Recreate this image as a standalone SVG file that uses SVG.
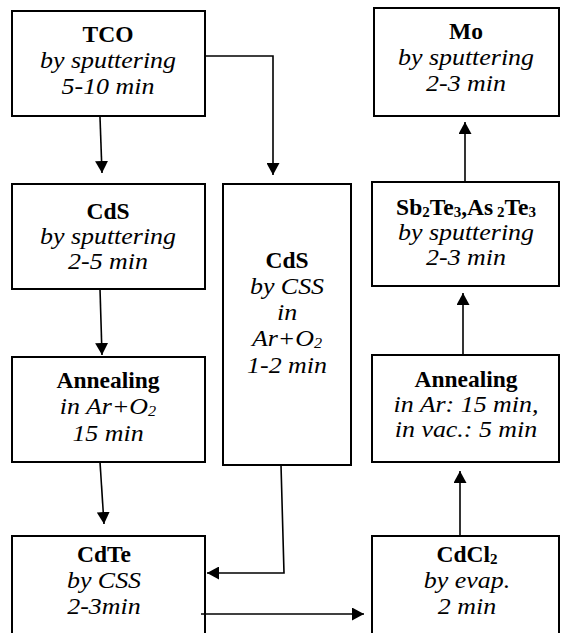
<svg xmlns="http://www.w3.org/2000/svg" width="561" height="633" viewBox="0 0 561 633">
<style>
.box{fill:#fff;stroke:#000;stroke-width:2}
.t{font-family:'Liberation Serif','Times New Roman',serif;font-size:23.5px;text-anchor:middle;fill:#000}
.b{font-weight:bold}
.i{font-style:italic;font-size:24px}
.s{font-size:15px}
.c{fill:none;stroke:#000;stroke-width:1.6}
</style>
<defs>
<marker id="ah" viewBox="0 0 12 13" refX="12" refY="6.5" markerWidth="12" markerHeight="13" markerUnits="userSpaceOnUse" orient="auto">
<path d="M0,0 L12,6.5 L0,13 z" fill="#000"/>
</marker>
</defs>
<rect width="561" height="633" fill="#fff"/>
<g id="tco">
<rect class="box" x="12" y="11" width="193" height="105"/>
<text class="t b" x="108" y="42">TCO</text>
<text class="t i" transform="translate(108,68) scale(1.08,1)">by sputtering</text>
<text class="t i" transform="translate(108,94) scale(1.08,1)">5-10 min</text>
</g>
<g id="mo">
<rect class="box" x="374" y="8" width="185" height="108"/>
<text class="t b" x="466" y="39">Mo</text>
<text class="t i" transform="translate(466,65) scale(1.08,1)">by sputtering</text>
<text class="t i" transform="translate(466,91) scale(1.08,1)">2-3  min</text>
</g>
<g id="cds-sput">
<rect class="box" x="12" y="184" width="193" height="105"/>
<text class="t b" x="108" y="219">CdS</text>
<text class="t i" transform="translate(108,244) scale(1.08,1)">by sputtering</text>
<text class="t i" transform="translate(108,269) scale(1.08,1)">2-5 min</text>
</g>
<g id="cds-css">
<rect class="box" x="223" y="184" width="128" height="281"/>
<text class="t b" x="287" y="268">CdS</text>
<text class="t i" transform="translate(287,294) scale(1.08,1)">by CSS</text>
<text class="t i" transform="translate(287,320) scale(1.08,1)">in</text>
<text class="t i" transform="translate(287,346) scale(1.08,1)">Ar+O<tspan class="s" dy="1.5">2</tspan></text>
<text class="t i" transform="translate(287,373) scale(1.08,1)">1-2 min</text>
</g>
<g id="sbte">
<rect class="box" x="372" y="182" width="187" height="104"/>
<text class="t b" x="466" y="215">Sb<tspan class="s" dy="1.5">2</tspan><tspan dy="-1.5">Te</tspan><tspan class="s" dy="1.5">3</tspan><tspan dy="-1.5">,As</tspan><tspan class="s" dy="1.5"> 2</tspan><tspan dy="-1.5">Te</tspan><tspan class="s" dy="1.5">3</tspan></text>
<text class="t i" transform="translate(466,240) scale(1.08,1)">by sputtering</text>
<text class="t i" transform="translate(466,265) scale(1.08,1)">2-3 min</text>
</g>
<g id="anneal-left">
<rect class="box" x="12" y="357" width="193" height="105"/>
<text class="t b" x="108" y="388">Annealing</text>
<text class="t i" transform="translate(108,414) scale(1.08,1)">in Ar+O<tspan class="s" dy="1.5">2</tspan></text>
<text class="t i" transform="translate(108,441) scale(1.08,1)">15 min</text>
</g>
<g id="anneal-right">
<rect class="box" x="372" y="355" width="187" height="107"/>
<text class="t b" x="466" y="387">Annealing</text>
<text class="t i" transform="translate(466,412) scale(1.08,1)">in Ar: 15 min,</text>
<text class="t i" transform="translate(466,437) scale(1.08,1)">in vac.: 5 min</text>
</g>
<g id="cdte">
<rect class="box" x="12" y="536" width="193" height="110"/>
<text class="t b" x="104" y="562">CdTe</text>
<text class="t i" transform="translate(104,588) scale(1.08,1)">by CSS</text>
<text class="t i" transform="translate(104,614) scale(1.08,1)">2-3min</text>
</g>
<g id="cdcl2">
<rect class="box" x="372" y="536" width="187" height="110"/>
<text class="t b" x="467" y="562">CdCl<tspan class="s" dy="1.5">2</tspan></text>
<text class="t i" transform="translate(467,588) scale(1.08,1)">by evap.</text>
<text class="t i" transform="translate(467,614) scale(1.08,1)">2 min</text>
</g>
<g id="connectors">
<path class="c" d="M100,117 L102,173" marker-end="url(#ah)"/>
<path class="c" d="M205,56 H273 V175" marker-end="url(#ah)"/>
<path class="c" d="M100,289 L102,355" marker-end="url(#ah)"/>
<path class="c" d="M100,462 L104,524" marker-end="url(#ah)"/>
<path class="c" d="M281,465 L284,573 H207" marker-end="url(#ah)"/>
<path class="c" d="M201,614 H364" marker-end="url(#ah)"/>
<path class="c" d="M460,536 V471" marker-end="url(#ah)"/>
<path class="c" d="M463,355 V293" marker-end="url(#ah)"/>
<path class="c" d="M465,182 V122" marker-end="url(#ah)"/>
</g>
</svg>
